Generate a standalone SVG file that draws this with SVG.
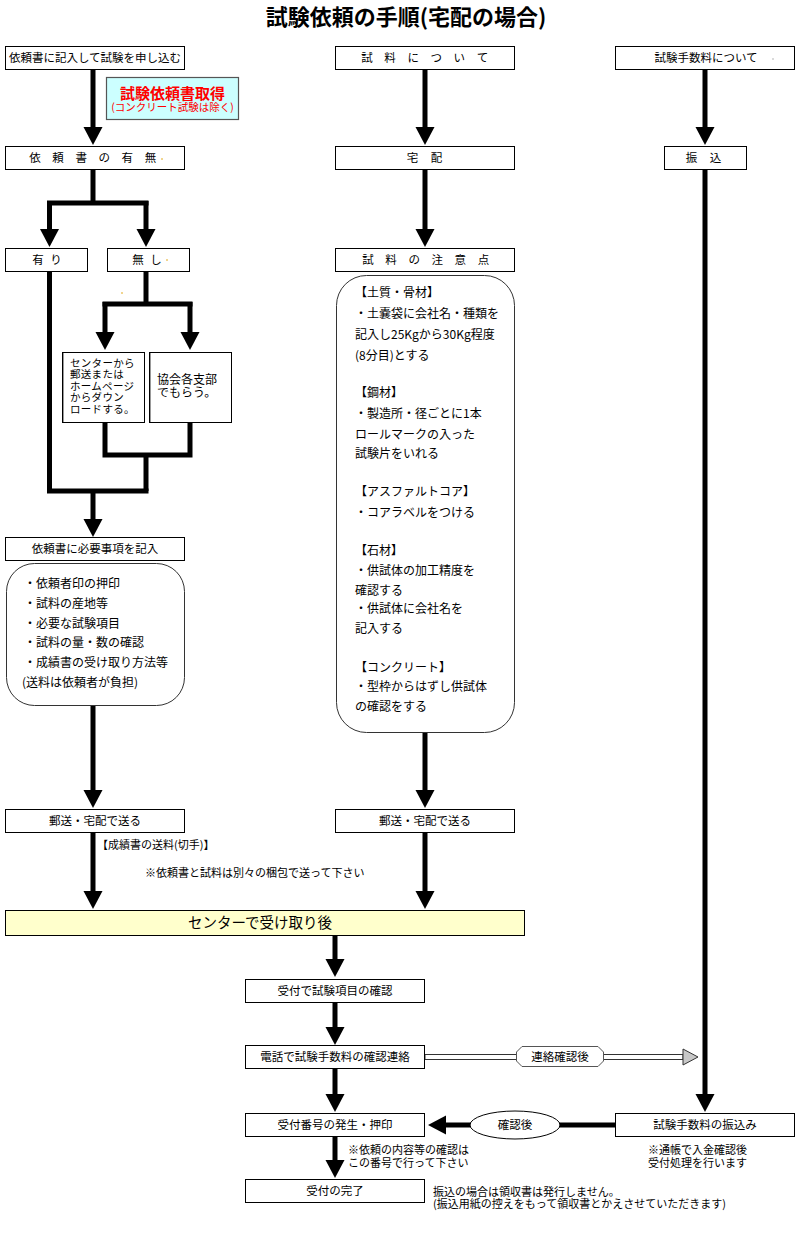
<svg xmlns="http://www.w3.org/2000/svg" width="800" height="1260" viewBox="0 0 800 1260">
<style>
text{font-family:"Noto Sans CJK JP","Noto Sans",sans-serif;fill:#000}
.t{font-size:11.5px}
.c{text-anchor:middle}
.s{font-size:12px}
.n{font-size:11px}
.m{font-size:10.5px}
.box{fill:#fff;stroke:#000;stroke-width:1}
.rbox{fill:#fff;stroke:#333;stroke-width:1}
.th{fill:none;stroke:#000;stroke-width:5}
.dot{fill:#e0a000}
</style>
<defs>
<marker id="ah" viewBox="0 -10 19 20" refX="0" refY="0" markerWidth="19" markerHeight="20" markerUnits="userSpaceOnUse" orient="auto">
<path d="M0,-9.5 L18,0 L0,9.5 Z" fill="#000"/>
</marker>
</defs>
<rect width="800" height="1260" fill="#fff"/>
<text x="406" y="25" class="c" style="font-size:22px;font-weight:bold">試験依頼の手順(宅配の場合)</text>

<g id="connectors">
<path class="th" d="M93,70 V127" marker-end="url(#ah)"/>
<path class="th" d="M93,169 V203"/>
<path class="th" d="M47,203 H148.5"/>
<path class="th" d="M49.5,201 V229" marker-end="url(#ah)"/>
<path class="th" d="M146,201 V229" marker-end="url(#ah)"/>
<path class="th" d="M49.5,271 V491 H148.5"/>
<path class="th" d="M146,271 V304"/>
<path class="th" d="M102.5,304 H192.5"/>
<path class="th" d="M105,302 V332" marker-end="url(#ah)"/>
<path class="th" d="M190,302 V332" marker-end="url(#ah)"/>
<path class="th" d="M105,422 V455 H190 V422"/>
<path class="th" d="M146,455 V491"/>
<path class="th" d="M93,491 V519" marker-end="url(#ah)"/>
<path class="th" d="M93,705 V790" marker-end="url(#ah)"/>
<path class="th" d="M93,832 V891" marker-end="url(#ah)"/>
<path class="th" d="M425,69 V127" marker-end="url(#ah)"/>
<path class="th" d="M425,169 V229" marker-end="url(#ah)"/>
<path class="th" d="M425,732 V790" marker-end="url(#ah)"/>
<path class="th" d="M425,832 V891" marker-end="url(#ah)"/>
<path class="th" d="M705,69 V127" marker-end="url(#ah)"/>
<path class="th" d="M705,169 V1094" marker-end="url(#ah)"/>
<path class="th" d="M335,936 V959" marker-end="url(#ah)"/>
<path class="th" d="M335,1002 V1027" marker-end="url(#ah)"/>
<path class="th" d="M335,1069 V1094" marker-end="url(#ah)"/>
<path class="th" d="M335,1137 V1160" marker-end="url(#ah)"/>
<path class="th" d="M615,1125 H446" marker-end="url(#ah)"/>
<rect x="425" y="1054.5" width="258" height="5" fill="#fff" stroke="#333" stroke-width="1"/>
<path d="M683,1049 L698,1057 L683,1065 Z" fill="#c8c8c8" stroke="#333" stroke-width="1"/>
</g>

<g id="n-apply"><rect class="box" x="5.5" y="46.5" width="179" height="23"/><text class="t c" x="95" y="62">依頼書に記入して試験を申し込む</text></g>
<g id="n-get"><rect x="106.5" y="77.5" width="132" height="42" fill="#ccffff" stroke="#555" stroke-width="1.2"/>
<text x="172.5" y="99" class="c" style="font-size:15px;font-weight:bold;fill:#ff0000">試験依頼書取得</text>
<text x="172.5" y="111" class="c" style="font-size:10.5px;fill:#ff0000">(コンクリート試験は除く)</text></g>
<g id="n-has"><rect class="box" x="5.5" y="146.5" width="179" height="23"/><text class="t c" x="95" y="162" style="letter-spacing:4.5px">依 頼 書 の 有 無</text><circle class="dot" cx="162" cy="159" r="0.8"/></g>
<g id="n-yes"><rect class="box" x="5.5" y="248.5" width="82" height="23"/><text class="t c" x="48" y="264" style="letter-spacing:2px">有 り</text></g>
<g id="n-no"><rect class="box" x="107.5" y="248.5" width="82" height="23"/><text class="t c" x="148" y="264" style="letter-spacing:2px">無 し</text><circle class="dot" cx="167" cy="260" r="0.8"/></g>
<circle class="dot" cx="122" cy="293" r="0.8"/>
<g id="n-dl"><rect class="box" x="62.5" y="352.5" width="82" height="70"/><line x1="63.5" y1="353" x2="63.5" y2="422" stroke="#999" stroke-width="1"/>
<text class="m" x="70" y="366.5" style="letter-spacing:0.3px">センターから</text><text class="m" x="70" y="378" style="letter-spacing:0.3px">郵送または</text><text class="m" x="70" y="389.5" style="letter-spacing:0.3px">ホームページ</text><text class="m" x="70" y="401" style="letter-spacing:0.3px">からダウン</text><text class="m" x="70" y="412.5" style="letter-spacing:0.3px">ロードする。</text></g>
<g id="n-branch"><rect class="box" x="149.5" y="352.5" width="82" height="70"/><line x1="150.5" y1="353" x2="150.5" y2="422" stroke="#999" stroke-width="1"/>
<text class="s" x="157" y="384">協会各支部</text><text class="s" x="157" y="397">でもらう。</text></g>
<g id="n-fill"><rect class="box" x="5.5" y="537.5" width="179" height="23"/><text class="t c" x="95" y="553">依頼書に必要事項を記入</text></g>
<g id="n-fill-list"><rect class="rbox" x="6.5" y="563.5" width="178" height="142" rx="28" ry="28"/>
<text class="s" x="24" y="588">・依頼者印の押印</text>
<text class="s" x="24" y="608">・試料の産地等</text>
<text class="s" x="24" y="628">・必要な試験項目</text>
<text class="s" x="24" y="647">・試料の量・数の確認</text>
<text class="s" x="24" y="667">・成績書の受け取り方法等</text>
<text class="s" x="22" y="687">(送料は依頼者が負担)</text></g>
<g id="n-send1"><rect class="box" x="5.5" y="809.5" width="179" height="23"/><text class="t c" x="95" y="825">郵送・宅配で送る</text></g>
<text class="n" x="97" y="849">【成績書の送料(切手)】</text>
<text class="n" x="145" y="877">※依頼書と試料は別々の梱包で送って下さい</text>

<g id="n-sample"><rect class="box" x="335.5" y="46.5" width="179" height="23"/><text class="t c" x="427" y="62" style="letter-spacing:4.5px">試 料 に つ い て</text></g>
<g id="n-takuhai"><rect class="box" x="335.5" y="146.5" width="179" height="23"/><text class="t c" x="427" y="162" style="letter-spacing:5px">宅 配</text></g>
<g id="n-caution"><rect class="box" x="335.5" y="248.5" width="179" height="23"/><text class="t c" x="428" y="264" style="letter-spacing:4.5px">試 料 の 注 意 点</text></g>
<g id="n-caution-list"><rect class="rbox" x="336.5" y="275.5" width="178" height="457" rx="30" ry="30"/>
<text class="s" x="355" y="297">【土質・骨材】</text>
<text class="s" x="355" y="318">・土嚢袋に会社名・種類を</text>
<text class="s" x="355" y="339">記入し25Kgから30Kg程度</text>
<text class="s" x="355" y="360">(8分目)とする</text>
<text class="s" x="355" y="397">【鋼材】</text>
<text class="s" x="355" y="418">・製造所・径ごとに1本</text>
<text class="s" x="355" y="439">ロールマークの入った</text>
<text class="s" x="355" y="458">試験片をいれる</text>
<text class="s" x="355" y="496">【アスファルトコア】</text>
<text class="s" x="355" y="517">・コアラベルをつける</text>
<text class="s" x="355" y="555">【石材】</text>
<text class="s" x="355" y="575">・供試体の加工精度を</text>
<text class="s" x="355" y="595">確認する</text>
<text class="s" x="355" y="613">・供試体に会社名を</text>
<text class="s" x="355" y="633">記入する</text>
<text class="s" x="355" y="672">【コンクリート】</text>
<text class="s" x="355" y="691">・型枠からはずし供試体</text>
<text class="s" x="355" y="711">の確認をする</text></g>
<g id="n-send2"><rect class="box" x="335.5" y="809.5" width="179" height="23"/><text class="t c" x="425" y="825">郵送・宅配で送る</text></g>

<g id="n-fee"><rect class="box" x="615.5" y="46.5" width="179" height="23"/><text class="t c" x="706" y="62">試験手数料について</text><circle cx="773" cy="59" r="0.7" fill="#999"/></g>
<g id="n-furikomi"><rect class="box" x="664.5" y="146.5" width="82" height="23"/><text class="t c" x="706" y="162" style="letter-spacing:5px">振 込</text></g>

<g id="n-center"><rect x="5.5" y="910.5" width="519" height="25" fill="#ffffcc" stroke="#000" stroke-width="1"/><text x="260" y="928" class="c" style="font-size:14.5px">センターで受け取り後</text></g>
<g id="n-check"><rect class="box" x="245.5" y="979.5" width="179" height="23"/><text class="t c" x="335" y="995">受付で試験項目の確認</text></g>
<g id="n-phone"><rect class="box" x="245.5" y="1045.5" width="179" height="23"/><text class="t c" x="335" y="1061">電話で試験手数料の確認連絡</text></g>
<g id="n-contact"><path d="M522,1046.5 H598 L603.5,1052 V1061 L598,1066.5 H522 L516.5,1061 V1052 Z" fill="#fff" stroke="#555" stroke-width="1"/><text class="t c" x="560" y="1061">連絡確認後</text></g>
<g id="n-number"><rect class="box" x="245.5" y="1113.5" width="179" height="23"/><text class="t c" x="335" y="1129">受付番号の発生・押印</text></g>
<g id="n-confirm"><ellipse cx="515" cy="1125" rx="45" ry="14" fill="#fff" stroke="#000" stroke-width="1"/><text class="t c" x="515" y="1129">確認後</text></g>
<g id="n-pay"><rect class="box" x="615.5" y="1113.5" width="179" height="23"/><text class="t c" x="705" y="1129">試験手数料の振込み</text></g>
<text class="n" x="348" y="1154">※依頼の内容等の確認は</text>
<text class="n" x="348" y="1167">この番号で行って下さい</text>
<text class="n" x="648" y="1154">※通帳で入金確認後</text>
<text class="n" x="648" y="1167">受付処理を行います</text>
<g id="n-done"><rect class="box" x="245.5" y="1179.5" width="179" height="23"/><text class="t c" x="335" y="1195">受付の完了</text></g>
<text class="n" x="433" y="1196">振込の場合は領収書は発行しません。</text>
<text class="n" x="433" y="1208">(振込用紙の控えをもって領収書とかえさせていただきます)</text>
</svg>
